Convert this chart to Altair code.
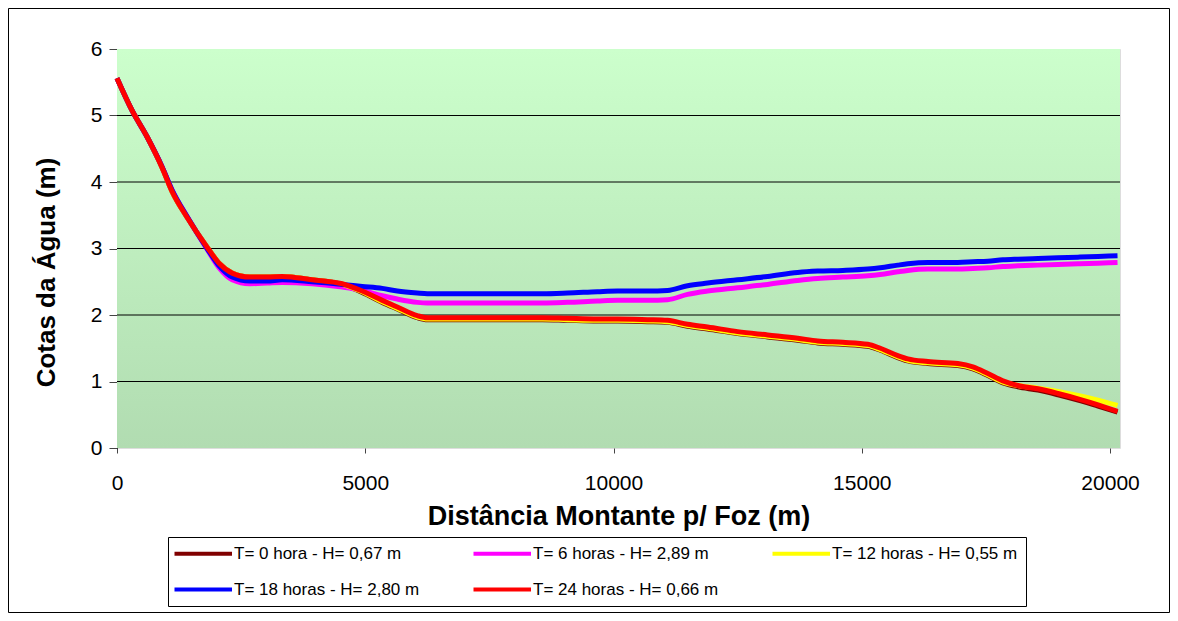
import altair as alt
import pandas as pd

# ---- data ----
dist_m = [0, 300, 605, 907, 1109, 1411, 1814, 2066, 2318, 2671, 3024, 3326, 3931, 4536, 4939,
          5342, 5645, 6048, 6250, 7056, 8064, 8568, 9072, 9677, 10080, 10685, 11088, 11491,
          11894, 12499, 13104, 13709, 14112, 14616, 15120, 15372, 15725, 15926, 16330, 16934,
          17237, 17539, 17842, 18144, 18547, 18950, 19354, 19757, 20150]

cota_t0 = [5.56, 5.08, 4.68, 4.22, 3.86, 3.47, 3.02, 2.77, 2.63, 2.57,
           2.57, 2.58, 2.53, 2.46, 2.34, 2.19, 2.09, 1.96, 1.93, 1.93,
           1.93, 1.93, 1.92, 1.91, 1.91, 1.90, 1.89, 1.83, 1.79, 1.72,
           1.67, 1.62, 1.58, 1.56, 1.53, 1.47, 1.36, 1.31, 1.27, 1.24,
           1.19, 1.09, 0.98, 0.92, 0.87, 0.80, 0.72, 0.63, 0.54]

cota_t6 = [5.56, 5.08, 4.68, 4.23, 3.88, 3.48, 2.99, 2.70, 2.53, 2.47,
           2.48, 2.49, 2.47, 2.42, 2.37, 2.29, 2.24, 2.19, 2.18, 2.18,
           2.18, 2.18, 2.19, 2.21, 2.22, 2.22, 2.23, 2.31, 2.36, 2.41,
           2.46, 2.52, 2.55, 2.57, 2.59, 2.61, 2.65, 2.67, 2.69, 2.69,
           2.70, 2.71, 2.73, 2.74, 2.75, 2.76, 2.77, 2.78, 2.79]

cota_t12 = [5.56, 5.08, 4.68, 4.22, 3.86, 3.47, 3.02, 2.77, 2.63, 2.57,
            2.57, 2.58, 2.53, 2.46, 2.35, 2.20, 2.10, 1.97, 1.94, 1.94,
            1.94, 1.94, 1.93, 1.92, 1.92, 1.91, 1.90, 1.84, 1.80, 1.73,
            1.68, 1.63, 1.59, 1.57, 1.54, 1.48, 1.37, 1.32, 1.28, 1.25,
            1.20, 1.10, 0.99, 0.94, 0.90, 0.85, 0.79, 0.72, 0.64]

cota_t18 = [5.56, 5.08, 4.68, 4.23, 3.88, 3.48, 3.00, 2.73, 2.57, 2.51,
            2.51, 2.53, 2.50, 2.46, 2.43, 2.40, 2.36, 2.33, 2.32, 2.32,
            2.32, 2.32, 2.33, 2.35, 2.36, 2.36, 2.37, 2.44, 2.48, 2.53,
            2.58, 2.64, 2.66, 2.67, 2.69, 2.71, 2.75, 2.77, 2.79, 2.79,
            2.80, 2.81, 2.83, 2.84, 2.85, 2.86, 2.87, 2.88, 2.89]

cota_t24 = [5.56, 5.08, 4.68, 4.22, 3.86, 3.47, 3.02, 2.77, 2.63, 2.57,
            2.57, 2.58, 2.53, 2.47, 2.36, 2.22, 2.12, 1.99, 1.96, 1.96,
            1.96, 1.96, 1.95, 1.94, 1.94, 1.93, 1.92, 1.86, 1.82, 1.75,
            1.70, 1.65, 1.61, 1.59, 1.56, 1.50, 1.39, 1.34, 1.30, 1.27,
            1.22, 1.12, 1.01, 0.94, 0.89, 0.82, 0.74, 0.65, 0.55]

series_labels = ["T= 0 hora - H= 0,67 m", "T= 6 horas - H= 2,89 m", "T= 12 horas - H= 0,55 m",
                 "T= 18 horas - H= 2,80 m", "T= 24 horas - H= 0,66 m"]
series_colors = ["#800000", "#FF00FF", "#FFFF00", "#0000FF", "#FF0000"]
x_ticks = [0, 5000, 10000, 15000, 20000]
y_ticks = [0, 1, 2, 3, 4, 5, 6]
grid_levels = [1, 2, 3, 4, 5]

# ---- build table ----
rows = []
for k, (lab, ys) in enumerate(zip(series_labels, [cota_t0, cota_t6, cota_t12, cota_t18, cota_t24])):
    for x, y in zip(dist_m, ys):
        rows.append({"serie": lab, "ordem": k, "dist": x, "cota": y})
df = pd.DataFrame(rows)
grid_df = pd.DataFrame({"g": grid_levels})
one = pd.DataFrame({"a": [0]})

W, H = 1003, 399
FONT = "Liberation Sans"

x_scale = alt.Scale(domain=[0, 20200], nice=False, zero=False)
y_scale = alt.Scale(domain=[0, 6], nice=False)

background = alt.Chart(one).mark_rect(
    color=alt.LinearGradient(
        gradient="linear",
        stops=[alt.GradientStop(color="#CCFFCC", offset=0),
               alt.GradientStop(color="#B1DCB1", offset=1)],
        x1=0, x2=0, y1=0, y2=1)
).encode(x=alt.value(0), x2=alt.value(W), y=alt.value(0), y2=alt.value(H))

grid = alt.Chart(grid_df).mark_rule(color="black", strokeWidth=1).encode(
    y=alt.Y("g:Q", scale=y_scale)
)

lines = alt.Chart(df).mark_line(strokeWidth=5, interpolate="monotone").encode(
    x=alt.X("dist:Q", scale=x_scale,
            axis=alt.Axis(values=x_ticks, format="d", title="Distância Montante p/ Foz (m)",
                          grid=False, domain=False, tickColor="#444444", tickSize=5,
                          labelFontSize=21, labelPadding=19, labelColor="black",
                          labelFlush=False,
                          titleFontSize=27, titleFontWeight="bold", titlePadding=10,
                          titleColor="black", labelFont=FONT, titleFont=FONT)),
    y=alt.Y("cota:Q", scale=y_scale,
            axis=alt.Axis(values=y_ticks, format="d", title="Cotas da Água (m)", grid=False,
                          domainColor="black", tickColor="#444444", tickSize=8,
                          labelFontSize=21, labelPadding=7, labelColor="black",
                          labelFlush=False,
                          titleFontSize=26, titleFontWeight="bold", titlePadding=31,
                          titleY=223,
                          titleColor="black", labelFont=FONT, titleFont=FONT)),
    color=alt.Color("serie:N",
                    scale=alt.Scale(domain=series_labels, range=series_colors),
                    sort=series_labels,
                    legend=alt.Legend(title=None, orient="none", legendX=51, legendY=488,
                                      direction="horizontal", columns=3,
                                      symbolType="M-2,0H9.5", symbolSize=100,
                                      symbolStrokeWidth=4, labelOffset=41,
                                      labelFontSize=17, labelFont=FONT, labelColor="black",
                                      labelLimit=400,
                                      columnPadding=45, rowPadding=18,
                                      strokeColor="black", fillColor="white", padding=8)),
    order=alt.Order("dist:Q"),
    detail="ordem:N",
)

border = alt.Chart(one).mark_rect(fillOpacity=0, stroke="black", strokeWidth=1).encode(
    x=alt.value(-108.5), x2=alt.value(1052.5), y=alt.value(-40.5), y2=alt.value(563.5)
)

chart = alt.layer(background, grid, lines, border).properties(
    width=W, height=H,
    autosize="none",
    padding={"left": 109, "top": 41, "right": 50, "bottom": 165},
).configure_view(stroke=None).configure(background="white")

chart.save("out.html", embed_options={"renderer": "svg", "actions": False})
